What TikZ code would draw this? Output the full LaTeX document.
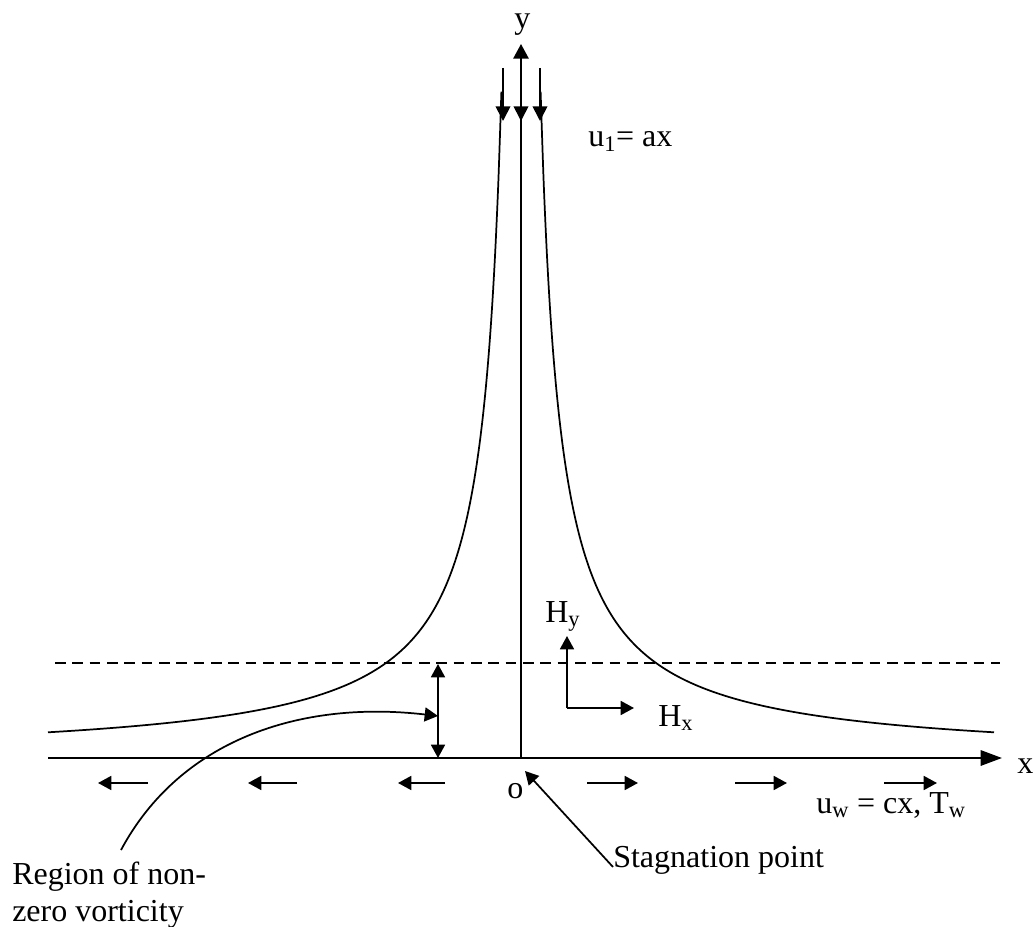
\documentclass[tikz,border=0pt]{standalone}
\usepackage{fontspec}
\setmainfont{Liberation Serif}
\usetikzlibrary{arrows.meta,positioning}

\begin{document}
\begin{tikzpicture}[x=0.75pt,y=-0.75pt]
        \tikzset{Label/.style={font=\fontsize{24}{28}\selectfont, inner sep=0pt, anchor=base west}}
        \tikzset{Flow/.style={-{Triangle[length=10pt,width=10.5pt]}, line width=1.3pt}}
        \tikzset{Inflow/.style={-{Triangle[length=11pt,width=11pt]}, line width=1.3pt}}
        \tikzset{Stream/.style={line width=1.3pt}}

        \useasboundingbox (0,0) rectangle (1033,927);

        % axes
        \coordinate (O) at (521,758);
        \coordinate (xstart) at (48,758);
        \coordinate (xend) at (1002,758);
        \coordinate (ytop) at (521,44);
        \draw[-{Triangle[length=16pt,width=11.5pt]}, line width=1.6pt] (xstart) -- (xend);
        \draw[-{Triangle[length=11pt,width=11.5pt]}, line width=1.4pt] (O) -- (ytop);

        % streamlines (hyperbolas)
        \foreach \s in {1,-1}{
            \begin{scope}[shift={(521,0)}, xscale=\s]
                \draw[Stream] plot[domain=19.6:473, samples=150, smooth, variable=\d] ({-\d},{760-13100/\d});
            \end{scope}
        }

        % incoming flow
        \foreach \x [count=\i] in {503,521,540}{
            \coordinate (in\i) at (\x,68);
            \coordinate (tip\i) at (\x,121);
            \draw[Inflow] (in\i) -- (tip\i);
        }

        % stretching wall
        \foreach \a/\b [count=\i] in {148/98, 297/248, 445/398, 587/638, 735/787, 884/937}{
            \coordinate (wa\i) at (\a,783);
            \coordinate (wb\i) at (\b,783);
            \draw[Flow] (wa\i) -- (wb\i);
        }

        % edge of the layer
        \coordinate (dl) at (55,663);
        \coordinate (dr) at (1000,663);
        \draw[dashed, dash pattern=on 8pt off 5pt, line width=1.1pt] (dl) -- (dr);

        \coordinate (bltop) at (438,664);
        \coordinate (blbot) at (438,758);
        \coordinate (blmid) at (438,716);
        \draw[{Triangle[length=10pt,width=10.5pt]}-{Triangle[length=10pt,width=10.5pt]}, line width=1.3pt] (bltop) -- (blbot);

        % magnetic field
        \coordinate (Hc) at (567,708);
        \coordinate (Hup) at (567,636);
        \coordinate (Hrt) at (634,708);
        \draw[Flow] (Hc) -- (Hup);
        \draw[Flow] (Hc) -- (Hrt);

        % labels
        \node[Label] (ylab) at (514,29) {y};
        \node[Label] (xlab) at (1017,773) {x};
        \node[Label] (olab) at (507,798) {o};
        \node[Label] (u1) at (588,147) {u\textsubscript{1}= ax};
        \node[Label] (Hy) at (545,622) {H\textsubscript{y}};
        \node[Label] (Hx) at (658,726) {H\textsubscript{x}};
        \node[Label] (uw) at (816,813) {u\textsubscript{w} = cx, T\textsubscript{w}};
        \node[Label] (stag) at (613,867) {Stagnation point};
        \node[Label, align=left, anchor=north west, font=\fontsize{24}{27.6}\selectfont] (region) at (12,862) {Region of non-\\zero vorticity};

        % pointers
        \coordinate (stagtip) at (525,771);
        \draw[Flow] (stag.base west) -- (stagtip);
        \coordinate (vstart) at (121,850);
        \draw[Flow] (vstart) .. controls (180,740) and (300,700) .. (blmid);
\end{tikzpicture}
\end{document}
